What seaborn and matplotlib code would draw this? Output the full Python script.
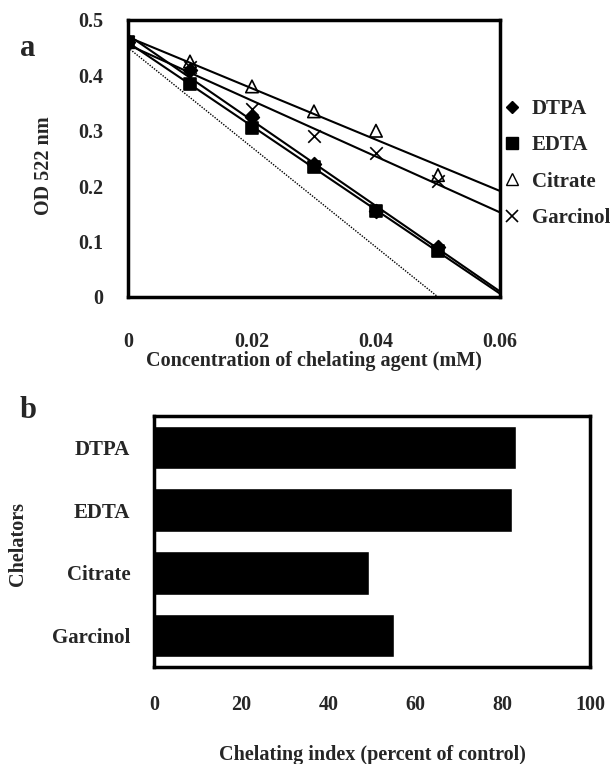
import numpy as np
import pandas as pd
import matplotlib
matplotlib.use("Agg")
import matplotlib.pyplot as plt
from matplotlib.lines import Line2D
from matplotlib.ticker import FixedLocator
import seaborn as sns

# ---------------- data ----------------
conc = [0.0, 0.01, 0.02, 0.03, 0.04, 0.05]
od_dtpa = [0.46, 0.41, 0.325, 0.24, 0.155, 0.09]
od_edta = [0.46, 0.385, 0.305, 0.235, 0.155, 0.083]
od_citrate = [0.46, 0.425, 0.38, 0.335, 0.30, 0.22]
od_garcinol = [0.46, 0.415, 0.34, 0.29, 0.26, 0.21]
ref_x = [0.0, 0.05]
ref_y = [0.45, 0.0]

chelators = ["DTPA", "EDTA", "Citrate", "Garcinol"]
chel_index = [83.0, 82.1, 49.3, 55.0]

x_ticks_a = [0, 0.02, 0.04, 0.06]
x_ticklabels_a = ["0", "0.02", "0.04", "0.06"]
y_ticks_a = [0, 0.1, 0.2, 0.3, 0.4, 0.5]
y_ticklabels_a = ["0", "0.1", "0.2", "0.3", "0.4", "0.5"]
x_ticks_b = [0, 20, 40, 60, 80, 100]

# ---------------- style ----------------
sns.set_style("white")
plt.rcParams["font.family"] = ["Liberation Serif", "DejaVu Serif"]
plt.rcParams["font.weight"] = "bold"
plt.rcParams["axes.labelweight"] = "bold"

fig = plt.figure(figsize=(6.10, 7.64), dpi=100)
ax1 = fig.add_axes([0.2098, 0.6113, 0.6098, 0.3626])
ax2 = fig.add_axes([0.2525, 0.1270, 0.7148, 0.3285])

FS = 14.5

# ---------------- panel a ----------------
ax1.set_xlim(0, 0.06)
ax1.set_ylim(0, 0.5)

series = [
    ("DTPA", od_dtpa, "D", "black", "black", 7),
    ("EDTA", od_edta, "s", "black", "black", 8),
    ("Citrate", od_citrate, "^", "none", "black", 9),
    ("Garcinol", od_garcinol, "x", "black", "black", 9),
]
for name, ys, mk, fc, ec, ms in series:
    df = pd.DataFrame({"x": conc, "y": ys})
    sk = dict(s=ms ** 2, facecolors=fc, edgecolors=ec, linewidths=1.2, alpha=1, zorder=3)
    if mk == "x":
        sk = dict(s=ms ** 2, color="black", linewidths=1.2, alpha=1, zorder=3)
    sns.regplot(data=df, x="x", y="y", ax=ax1, ci=None, truncate=False,
                marker=mk, scatter_kws=sk,
                line_kws=dict(color="black", lw=1.5, zorder=2))

sns.lineplot(x=ref_x, y=ref_y, ax=ax1, color="black", lw=1.0, linestyle=(0, (1, 1)))
ax1.set_xlim(0, 0.06)
ax1.set_ylim(0, 0.5)

ax1.set_xticks(x_ticks_a)
ax1.set_xticklabels(x_ticklabels_a, fontsize=FS, fontweight="bold")
ax1.set_yticks(y_ticks_a)
ax1.set_yticklabels(y_ticklabels_a, fontsize=FS, fontweight="bold")
ax1.tick_params(axis="x", direction="in", length=5, width=1, pad=25)
ax1.tick_params(axis="y", direction="in", length=5, width=1, pad=18)
ax1.set_xlabel("Concentration of chelating agent (mM)", fontsize=14.5, fontweight="bold")
ax1.set_ylabel("OD 522 nm", fontsize=FS, fontweight="bold")
ax1.xaxis.set_label_coords(0.5, -0.195)
ax1.yaxis.set_label_coords(-0.20, 0.475)
for sp in ax1.spines.values():
    sp.set_visible(True)
    sp.set_linewidth(2.5)
    sp.set_color("black")

handles = [
    Line2D([], [], marker="D", ls="none", color="black", markersize=6),
    Line2D([], [], marker="s", ls="none", color="black", markersize=8),
    Line2D([], [], marker="^", ls="none", markerfacecolor="none", markeredgecolor="black", markersize=8),
    Line2D([], [], marker="x", ls="none", color="black", markersize=9, markeredgewidth=1.2),
]
ax1.legend(handles, [s[0] for s in series], loc="center left",
           bbox_to_anchor=(1.015, 0.482), frameon=False,
           prop=dict(weight="bold", size=15), handlelength=0.6, handletextpad=0.65,
           labelspacing=0.78, borderaxespad=0, borderpad=0)
fig.text(20 / 610, 1 - 48 / 764, "a", fontsize=22, fontweight="bold", va="center", ha="left")

# ---------------- panel b ----------------
dfb = pd.DataFrame({"Chelators": chelators, "index": chel_index})
sns.barplot(data=dfb, x="index", y="Chelators", orient="h", color="black",
            width=0.69, saturation=1, ax=ax2)
ax2.set_xlim(0, 100)
ax2.set_ylim(3.5, -0.5)
ax2.set_xticks(x_ticks_b)
ax2.set_xticklabels([str(v) for v in x_ticks_b], fontsize=FS, fontweight="bold")
ax2.set_yticks(range(len(chelators)))
ax2.set_yticklabels(chelators, fontsize=15, fontweight="bold")
ax2.yaxis.set_minor_locator(FixedLocator([0.5, 1.5, 2.5]))
ax2.tick_params(axis="y", which="major", length=0, pad=17)
ax2.tick_params(axis="y", which="minor", direction="in", length=4, width=1)
ax2.tick_params(axis="x", direction="in", length=5, width=1, pad=20)
ax2.set_xlabel("Chelating index (percent of control)", fontsize=14.5, fontweight="bold")
ax2.set_ylabel("Chelators", fontsize=FS, fontweight="bold")
ax2.xaxis.set_label_coords(0.5, -0.31)
ax2.yaxis.set_label_coords(-0.29, 0.49)
for sp in ax2.spines.values():
    sp.set_visible(True)
    sp.set_linewidth(2.5)
    sp.set_color("black")
fig.text(20 / 610, 1 - 410 / 764, "b", fontsize=22, fontweight="bold", va="center", ha="left")

fig.savefig("out.png", dpi=100)
